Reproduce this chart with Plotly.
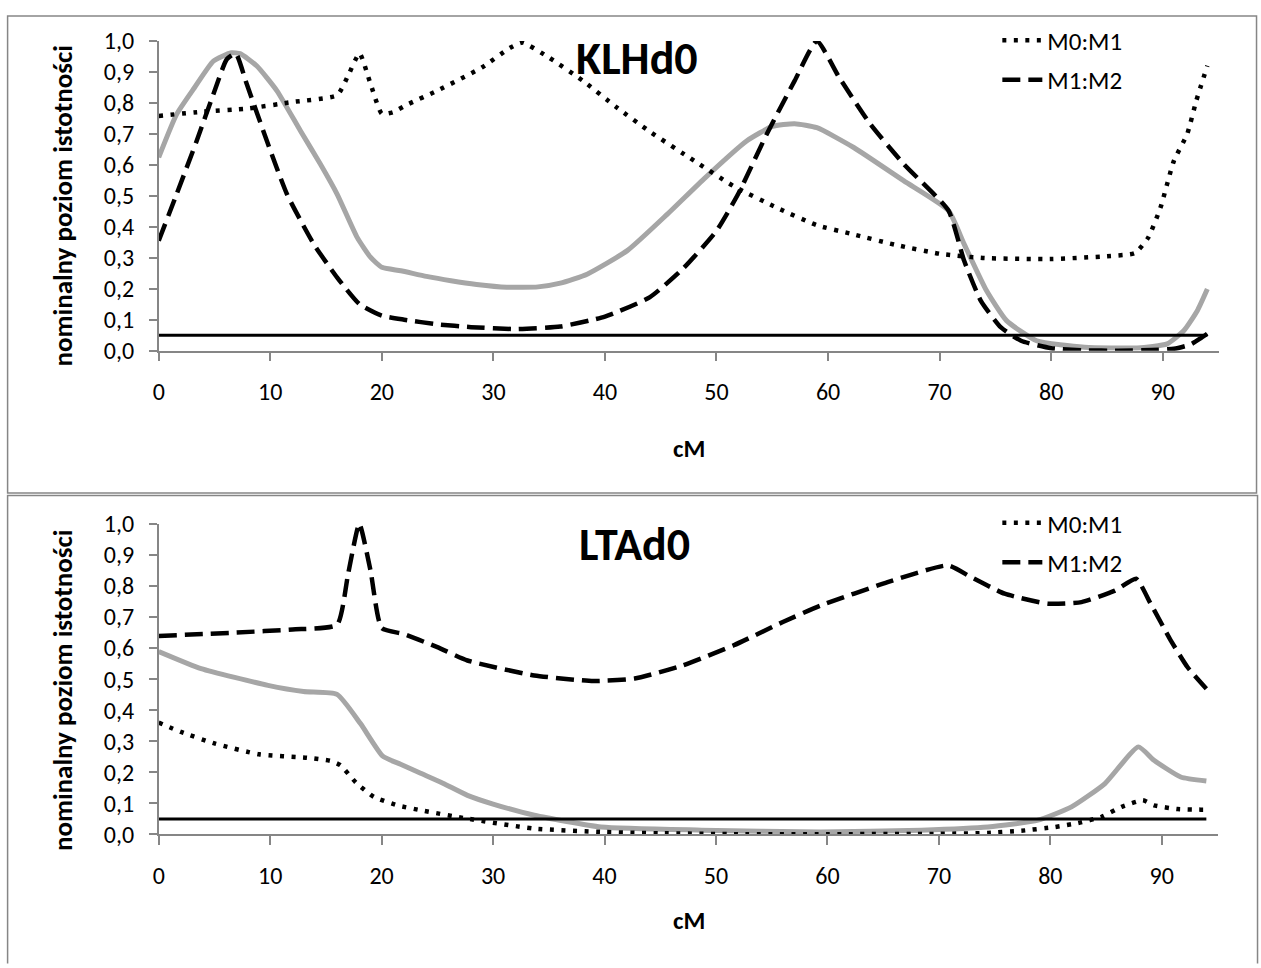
import plotly.graph_objects as go

W, H = 1261, 968
FONT = "Carlito, Lato, 'Open Sans', sans-serif"

# ---------------- data ----------------
x_ticks = [0, 10, 20, 30, 40, 50, 60, 70, 80, 90]
x_tick_labels = ["0", "10", "20", "30", "40", "50", "60", "70", "80", "90"]
y_ticks = [0.0, 0.1, 0.2, 0.3, 0.4, 0.5, 0.6, 0.7, 0.8, 0.9, 1.0]
y_tick_labels = ["0,0", "0,1", "0,2", "0,3", "0,4", "0,5", "0,6", "0,7", "0,8", "0,9", "1,0"]

threshold_x = [0, 94]
threshold_y = [0.05, 0.05]

# KLHd0 panel
klh_m01_x = [0, 4, 8, 12, 16, 17, 18, 19, 20, 21, 22.3, 25, 29, 31.5, 32.6, 35, 38, 41, 44, 48,
             51.5, 55.5, 59, 62, 66, 70, 74, 80, 85, 87.5, 88.7, 89.8, 91, 92.2, 93, 94]
klh_m01_y = [0.758, 0.772, 0.782, 0.803, 0.825, 0.89, 0.96, 0.86, 0.765, 0.77, 0.795, 0.84, 0.915,
             0.978, 0.995, 0.946, 0.872, 0.787, 0.708, 0.613, 0.532, 0.46, 0.405, 0.378, 0.342,
             0.313, 0.299, 0.296, 0.305, 0.315, 0.365, 0.462, 0.613, 0.70, 0.806, 0.92]

klh_m12_x = [0, 1.6, 3.4, 4.9, 6.1, 6.9, 7.9, 9.7, 11.5, 13.9, 16, 18, 20, 22, 25, 28, 32, 36, 40,
             44, 47, 50, 52, 54.5, 57, 59, 61, 63.8, 66.8, 70.8, 72.2, 73.7, 75.5, 77.3, 80, 83,
             86, 89, 91, 92.5, 93.4, 94]
klh_m12_y = [0.355, 0.505, 0.677, 0.828, 0.941, 0.96, 0.86, 0.677, 0.505, 0.344, 0.236, 0.15, 0.113,
             0.1, 0.085, 0.076, 0.07, 0.078, 0.11, 0.172, 0.265, 0.387, 0.51, 0.699, 0.871, 1.0,
             0.882, 0.731, 0.602, 0.452, 0.29, 0.161, 0.075, 0.032, 0.008, 0.001, 0.0, 0.002,
             0.006, 0.02, 0.04, 0.055]

klh_gray_x = [0, 1.6, 3.2, 4.9, 6.5, 7.3, 8.8, 10.6, 12.7, 14.5, 16, 17.8, 19, 20, 21.7, 24, 26.2,
              28.5, 31.2, 34, 36, 38.4, 42, 45.6, 49, 52.7, 55, 57, 59, 62.3, 66.8, 70.8, 72.2,
              74.2, 76, 78.7, 83, 87.7, 90.4, 91.9, 93.1, 94]
klh_gray_y = [0.624, 0.763, 0.849, 0.935, 0.962, 0.959, 0.919, 0.839, 0.71, 0.602, 0.505, 0.365,
              0.301, 0.269, 0.258, 0.24, 0.226, 0.214, 0.205, 0.206, 0.218, 0.247, 0.323, 0.441,
              0.559, 0.677, 0.724, 0.733, 0.72, 0.656, 0.548, 0.452, 0.344, 0.194, 0.097, 0.032,
              0.011, 0.009, 0.022, 0.065, 0.129, 0.199]

# LTAd0 panel
lta_m01_x = [0, 2, 5, 9, 13.3, 15.4, 16.3, 17.7, 19.3, 21.4, 23.5, 27.7, 33.7, 40, 45, 52, 60, 70,
             74.4, 77.4, 80.4, 82.5, 84.6, 86.4, 88.3, 89.3, 91.4, 93.5, 94]
lta_m01_y = [0.36, 0.33, 0.293, 0.258, 0.247, 0.237, 0.223, 0.167, 0.121, 0.094, 0.078, 0.051,
             0.019, 0.008, 0.004, 0.001, 0.001, 0.002, 0.005, 0.012, 0.024, 0.037, 0.057, 0.089,
             0.11, 0.094, 0.082, 0.08, 0.08]

lta_m12_x = [0, 7, 12, 16, 17, 18, 19, 20, 22, 25, 27.7, 33.7, 39, 42.7, 47, 51.6, 56, 59.4, 65.4,
             70.8, 72.9, 75.9, 79.8, 82.8, 85.8, 87.7, 89, 90.8, 92.3, 94]
lta_m12_y = [0.639, 0.65, 0.66, 0.675, 0.84, 1.0, 0.85, 0.665, 0.645, 0.603, 0.56, 0.512, 0.494,
             0.502, 0.544, 0.609, 0.684, 0.737, 0.812, 0.866, 0.828, 0.775, 0.743, 0.748, 0.785,
             0.823, 0.743, 0.625, 0.539, 0.469]

lta_gray_x = [0, 3.8, 9.8, 13, 16, 18.1, 20.1, 21.7, 23.5, 25.5, 27.7, 30, 33.7, 39.7, 48.7, 59.4,
              68.4, 74.4, 78.9, 81.9, 84.9, 87.9, 89.3, 91.7, 94]
lta_gray_y = [0.589, 0.534, 0.48, 0.46, 0.451, 0.357, 0.252, 0.226, 0.197, 0.165, 0.126, 0.098,
              0.062, 0.024, 0.014, 0.008, 0.014, 0.024, 0.046, 0.089, 0.164, 0.282, 0.239, 0.185,
              0.172]

titles = ["KLHd0", "LTAd0"]
series_names = ["M0:M1", "M1:M2"]
x_title = "cM"
y_title = "nominalny poziom istotności"

# ---------------- styles ----------------
GRAY = "#a6a6a6"
AXIS = "#868686"
DOT = "4px,7.5px"
DASH = "18px,8px"
SMOOTH = 0.5


def fx(px):
    # map a target pixel column to paper coordinates
    return ((px - 5.4) / 0.9945) / W


def fy_design(d):
    return 1 - d / H


def fy(py):
    # map a target pixel row to paper coordinates
    return fy_design((py - 14) / 0.971)


fig = go.Figure()

panels = [
    dict(xa="x", ya="y", leg="legend",
         m01=(klh_m01_x, klh_m01_y), m12=(klh_m12_x, klh_m12_y), gray=(klh_gray_x, klh_gray_y)),
    dict(xa="x2", ya="y2", leg="legend2",
         m01=(lta_m01_x, lta_m01_y), m12=(lta_m12_x, lta_m12_y), gray=(lta_gray_x, lta_gray_y)),
]

for i, p in enumerate(panels):
    fig.add_trace(go.Scatter(x=p["gray"][0], y=p["gray"][1], mode="lines",
                             line=dict(color=GRAY, width=5, shape="spline", smoothing=SMOOTH),
                             showlegend=False, xaxis=p["xa"], yaxis=p["ya"], hoverinfo="skip"))
    fig.add_trace(go.Scatter(x=threshold_x, y=threshold_y, mode="lines",
                             line=dict(color="black", width=3), showlegend=False,
                             xaxis=p["xa"], yaxis=p["ya"], hoverinfo="skip"))
    fig.add_trace(go.Scatter(x=p["m01"][0], y=p["m01"][1], mode="lines", name=series_names[0],
                             line=dict(color="black", width=4.5, dash=DOT, shape="spline",
                                       smoothing=SMOOTH),
                             legend=p["leg"], legendgroup=f"a{i}",
                             xaxis=p["xa"], yaxis=p["ya"]))
    fig.add_trace(go.Scatter(x=p["m12"][0], y=p["m12"][1], mode="lines", name=series_names[1],
                             line=dict(color="black", width=4.5, dash=DASH, shape="spline",
                                       smoothing=SMOOTH),
                             legend=p["leg"], legendgroup=f"b{i}",
                             xaxis=p["xa"], yaxis=p["ya"]))

tickfont = dict(family=FONT, size=24, color="black")


def xaxis_cfg(domain_px, anchor):
    return dict(domain=[fx(domain_px[0]), fx(domain_px[1])], range=[0, 95], anchor=anchor,
                tickvals=x_ticks, ticktext=x_tick_labels, ticks="outside", ticklen=9,
                tickwidth=1.5, tickcolor=AXIS, showline=True, linecolor=AXIS, linewidth=1.5,
                showgrid=False, zeroline=False, tickfont=tickfont, ticklabelstandoff=10,
                fixedrange=True)


def yaxis_cfg(top_px, bottom_px, anchor):
    return dict(domain=[fy(bottom_px), fy(top_px)], range=[0, 1.0], anchor=anchor,
                tickvals=y_ticks, ticktext=y_tick_labels, ticks="outside", ticklen=8,
                tickwidth=1.5, tickcolor=AXIS, showline=True, linecolor=AXIS, linewidth=1.5,
                showgrid=False, zeroline=False, tickfont=tickfont, ticklabelstandoff=10,
                fixedrange=True)


legend_common = dict(font=dict(family=FONT, size=25, color="black"), bgcolor="rgba(0,0,0,0)",
                     tracegroupgap=4, xanchor="left", yanchor="top", itemwidth=40)

layout_ann = [
    dict(text=f"<b>{titles[0]}</b>", x=fx(636), y=fy(57), font=dict(family=FONT, size=46, color="black")),
    dict(text=f"<b>{titles[1]}</b>", x=fx(633), y=fy(544), font=dict(family=FONT, size=46, color="black")),
    dict(text=f"<b>{x_title}</b>", x=fx(688), y=fy(448), font=dict(family=FONT, size=25, color="black")),
    dict(text=f"<b>{x_title}</b>", x=fx(688), y=fy(920), font=dict(family=FONT, size=25, color="black")),
    dict(text=f"<b>{y_title}</b>", x=fx(62), y=fy(205), textangle=-90,
         font=dict(family=FONT, size=27, color="black")),
    dict(text=f"<b>{y_title}</b>", x=fx(62), y=fy(690), textangle=-90,
         font=dict(family=FONT, size=27, color="black")),
]
for a in layout_ann:
    a.update(xref="paper", yref="paper", showarrow=False, xanchor="center", yanchor="middle")

top_b = fy_design(1)
shapes = [
    dict(type="rect", xref="paper", yref="paper", x0=fx(7), x1=fx(1255), y0=fy(492.5), y1=top_b,
         line=dict(color=AXIS, width=1.5)),
    dict(type="path", xref="paper", yref="paper",
         path=f"M {fx(7)},{-0.01} L {fx(7)},{fy(495)} L {fx(1256)},{fy(495)} L {fx(1256)},{-0.01}",
         line=dict(color=AXIS, width=1.5)),
]

fig.update_layout(
    width=W, height=H, margin=dict(l=0, r=0, t=0, b=0),
    paper_bgcolor="white", plot_bgcolor="white",
    font=dict(family=FONT, color="black"),
    xaxis=xaxis_cfg((158, 1217), "y"),
    yaxis=yaxis_cfg(40, 350, "x"),
    xaxis2=xaxis_cfg((158, 1216), "y2"),
    yaxis2=yaxis_cfg(523.3, 834.3, "x2"),
    legend=dict(x=fx(996), y=fy_design(2.5), **legend_common),
    legend2=dict(x=fx(996), y=fy_design(500), **legend_common),
    annotations=layout_ann,
    shapes=shapes,
    showlegend=True,
)

fig.write_html("out.html")
